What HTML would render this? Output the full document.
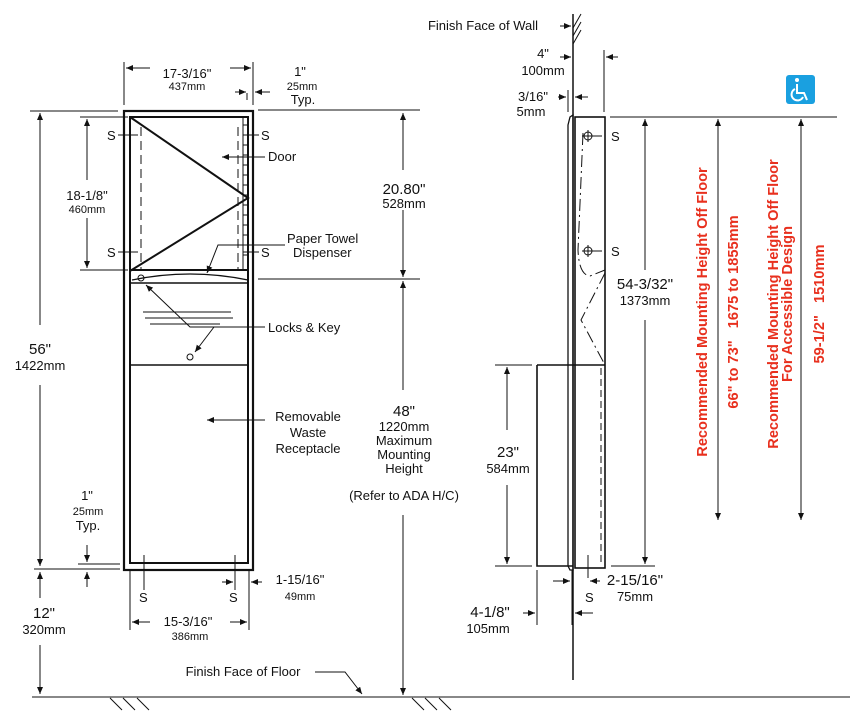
<!DOCTYPE html>
<html><head><meta charset="utf-8"><style>
html,body{margin:0;padding:0;background:#fff}
svg{display:block}
text{font-family:"Liberation Sans",Arial,sans-serif;fill:#111}
.b{font-size:13px}.s{font-size:11px}.l{font-size:15px}
.r{fill:#e8301e;font-size:14.6px;font-weight:bold}
</style></head><body>
<svg width="850" height="721" viewBox="0 0 850 721" xmlns="http://www.w3.org/2000/svg">
<defs>
<marker id="a" markerWidth="8" markerHeight="8" refX="7" refY="3" orient="auto" markerUnits="userSpaceOnUse"><path d="M0,0 L7,3 L0,6 z" fill="#111"/></marker>
</defs>
<g stroke="#111" fill="none" stroke-width="1">
<rect x="124" y="111" width="129" height="459" stroke-width="2.2"/>
<rect x="130" y="117" width="118" height="446" stroke-width="2"/>
<line x1="130" y1="270" x2="248" y2="270" stroke-width="2"/>
<line x1="130" y1="283" x2="248" y2="283" stroke-width="1.5"/>
<line x1="130" y1="365" x2="248" y2="365" stroke-width="1.5"/>
<path d="M130,117 L248,198 L130,271" stroke-width="2"/>
<path d="M132,280 Q190,268 248,280" stroke-width="1.2"/>
<line x1="243" y1="117" x2="243" y2="270"/>
<path d="M243,125h6M243,135h6M243,145h6M243,155h6M243,165h6M243,175h6M243,185h6M243,195h6M243,205h6M243,215h6M243,225h6M243,235h6M243,245h6M243,255h6"/>
<line x1="141" y1="127" x2="141" y2="270" stroke-dasharray="9,5"/>
<line x1="238" y1="127" x2="238" y2="270" stroke-dasharray="9,5"/>
<circle cx="141" cy="278" r="3"/>
<path d="M143,312h88M145,318h88M150,324h70"/>
<circle cx="190" cy="357" r="3"/>
<path d="M118,135h20M243,135h16M118,252h20M243,252h16"/>
<line x1="144" y1="555" x2="144" y2="590"/><line x1="235" y1="555" x2="235" y2="590"/>
<line x1="265" y1="157" x2="222" y2="157" marker-end="url(#a)"/>
<path d="M285,245 L218,245 L207,273" marker-end="url(#a)"/>
<path d="M265,327 L190,327 L146,285" marker-end="url(#a)"/>
<path d="M214,327 L195,352" marker-end="url(#a)"/>
<line x1="265" y1="420" x2="207" y2="420" marker-end="url(#a)"/>
<line x1="124" y1="62" x2="124" y2="105"/><line x1="253" y1="62" x2="253" y2="105"/>
<line x1="150" y1="68" x2="126" y2="68" marker-end="url(#a)"/>
<line x1="230" y1="68" x2="251" y2="68" marker-end="url(#a)"/>
<line x1="247" y1="93" x2="247" y2="100"/>
<line x1="235" y1="92" x2="246" y2="92" marker-end="url(#a)"/>
<line x1="270" y1="92" x2="255" y2="92" marker-end="url(#a)"/>
<line x1="258" y1="110" x2="420" y2="110"/>
<line x1="30" y1="111" x2="118" y2="111"/>
<line x1="40" y1="325" x2="40" y2="113" marker-end="url(#a)"/>
<line x1="40" y1="385" x2="40" y2="566" marker-end="url(#a)"/>
<line x1="34" y1="569" x2="120" y2="569"/>
<line x1="40" y1="598" x2="40" y2="572" marker-end="url(#a)"/>
<line x1="40" y1="645" x2="40" y2="694" marker-end="url(#a)"/>
<line x1="80" y1="117" x2="128" y2="117"/>
<line x1="80" y1="270" x2="128" y2="270"/>
<line x1="87" y1="180" x2="87" y2="119" marker-end="url(#a)"/>
<line x1="87" y1="218" x2="87" y2="268" marker-end="url(#a)"/>
<line x1="78" y1="564" x2="120" y2="564"/>
<line x1="87" y1="545" x2="87" y2="562" marker-end="url(#a)"/>
<line x1="87" y1="587" x2="87" y2="572" marker-end="url(#a)"/>
<line x1="130" y1="570" x2="130" y2="630"/><line x1="249" y1="570" x2="249" y2="630"/>
<line x1="150" y1="622" x2="132" y2="622" marker-end="url(#a)"/>
<line x1="230" y1="622" x2="247" y2="622" marker-end="url(#a)"/>
<line x1="222" y1="582" x2="233" y2="582" marker-end="url(#a)"/>
<line x1="262" y1="582" x2="251" y2="582" marker-end="url(#a)"/>
<line x1="258" y1="279" x2="420" y2="279"/>
<line x1="403" y1="170" x2="403" y2="113" marker-end="url(#a)"/>
<line x1="403" y1="210" x2="403" y2="277" marker-end="url(#a)"/>
<line x1="403" y1="390" x2="403" y2="281" marker-end="url(#a)"/>
<line x1="403" y1="515" x2="403" y2="695" marker-end="url(#a)"/>
<line x1="32" y1="697" x2="850" y2="697"/>
<path d="M110,698l12,12M123,698l12,12M137,698l12,12M412,698l12,12M425,698l12,12M439,698l12,12"/>
<path d="M315,672 L345,672 L362,694" marker-end="url(#a)"/>
<line x1="573" y1="14" x2="573" y2="680" stroke-width="1.5"/>
<path d="M573,28l8,-14M573,36l8,-14M573,44l8,-14"/>
<line x1="560" y1="26" x2="571" y2="26" marker-end="url(#a)"/>
<line x1="604" y1="50" x2="604" y2="112"/>
<line x1="560" y1="57" x2="571" y2="57" marker-end="url(#a)"/>
<line x1="618" y1="57" x2="606" y2="57" marker-end="url(#a)"/>
<line x1="568" y1="90" x2="568" y2="112"/>
<line x1="558" y1="97" x2="566" y2="97" marker-end="url(#a)"/>
<line x1="588" y1="97" x2="575" y2="97" marker-end="url(#a)"/>
<path d="M568,125 L570,117 L573,115 L573,570 L570,570 L568,566 Z" stroke-width="1.3"/>
<rect x="575" y="117" width="30" height="451" stroke-width="1.6"/>
<line x1="610" y1="117" x2="837" y2="117"/>
<path d="M583,133 L578,250 Q579,275 590,276 L605,270" stroke-dasharray="12,4,2,4"/>
<path d="M605,273 L581,320 L605,365" stroke-dasharray="12,4,2,4"/>
<circle cx="588" cy="136" r="4"/><path d="M588,130v12M582,136h20"/>
<circle cx="588" cy="251" r="4"/><path d="M588,245v12M582,251h20"/>
<path d="M537,365 L605,365 M537,365 L537,566 L573,566" stroke-width="1.6"/>
<line x1="601" y1="368" x2="601" y2="566" stroke-dasharray="7,4"/>
<line x1="495" y1="365" x2="532" y2="365"/>
<line x1="495" y1="566" x2="532" y2="566"/>
<line x1="507" y1="430" x2="507" y2="367" marker-end="url(#a)"/>
<line x1="507" y1="485" x2="507" y2="564" marker-end="url(#a)"/>
<line x1="537" y1="570" x2="537" y2="625"/>
<line x1="572" y1="570" x2="572" y2="625"/>
<line x1="588" y1="555" x2="588" y2="578"/>
<line x1="553" y1="581" x2="570" y2="581" marker-end="url(#a)"/>
<line x1="600" y1="581" x2="590" y2="581" marker-end="url(#a)"/>
<line x1="523" y1="613" x2="535" y2="613" marker-end="url(#a)"/>
<line x1="593" y1="613" x2="575" y2="613" marker-end="url(#a)"/>
<line x1="611" y1="566" x2="655" y2="566"/>
<line x1="645" y1="270" x2="645" y2="119" marker-end="url(#a)"/>
<line x1="645" y1="320" x2="645" y2="564" marker-end="url(#a)"/>
<line x1="718" y1="300" x2="718" y2="119" marker-end="url(#a)"/>
<line x1="718" y1="300" x2="718" y2="520" marker-end="url(#a)"/>
<line x1="801" y1="300" x2="801" y2="119" marker-end="url(#a)"/>
<line x1="801" y1="300" x2="801" y2="520" marker-end="url(#a)"/>
</g>
<rect x="786" y="75" width="29" height="29" rx="3" fill="#1aa0e0"/>
<g stroke="#fff" fill="none" stroke-width="2"><path d="M797,84v9h7l3,7"/><path d="M795,89a6,6 0 1 0 8,8"/></g>
<circle cx="797" cy="80" r="2" fill="#fff"/>
<text x="187" y="78" class="b" text-anchor="middle">17-3/16"</text>
<text x="187" y="90" class="s" text-anchor="middle">437mm</text>
<text x="300" y="76" class="b" text-anchor="middle">1"</text>
<text x="302" y="90" class="s" text-anchor="middle">25mm</text>
<text x="303" y="104" class="b" text-anchor="middle">Typ.</text>
<text x="107" y="140" class="b">S</text><text x="261" y="140" class="b">S</text>
<text x="107" y="257" class="b">S</text><text x="261" y="257" class="b">S</text>
<text x="268" y="161" class="b">Door</text>
<text x="287" y="243" class="b">Paper Towel</text>
<text x="293" y="257" class="b">Dispenser</text>
<text x="268" y="332" class="b">Locks &amp; Key</text>
<text x="308" y="421" class="b" text-anchor="middle">Removable</text>
<text x="308" y="437" class="b" text-anchor="middle">Waste</text>
<text x="308" y="453" class="b" text-anchor="middle">Receptacle</text>
<text x="87" y="200" class="b" text-anchor="middle">18-1/8"</text>
<text x="87" y="213" class="s" text-anchor="middle">460mm</text>
<text x="40" y="354" class="l" text-anchor="middle">56"</text>
<text x="40" y="370" class="b" text-anchor="middle">1422mm</text>
<text x="87" y="500" class="b" text-anchor="middle">1"</text>
<text x="88" y="515" class="s" text-anchor="middle">25mm</text>
<text x="88" y="530" class="b" text-anchor="middle">Typ.</text>
<text x="44" y="618" class="l" text-anchor="middle">12"</text>
<text x="44" y="634" class="b" text-anchor="middle">320mm</text>
<text x="139" y="602" class="b">S</text><text x="229" y="602" class="b">S</text>
<text x="188" y="626" class="b" text-anchor="middle">15-3/16"</text>
<text x="190" y="640" class="s" text-anchor="middle">386mm</text>
<text x="300" y="584" class="b" text-anchor="middle">1-15/16"</text>
<text x="300" y="600" class="s" text-anchor="middle">49mm</text>
<text x="243" y="676" class="b" text-anchor="middle">Finish Face of Floor</text>
<text x="404" y="194" class="l" text-anchor="middle">20.80"</text>
<text x="404" y="208" class="b" text-anchor="middle">528mm</text>
<text x="404" y="416" class="l" text-anchor="middle">48"</text>
<text x="404" y="431" class="b" text-anchor="middle">1220mm</text>
<text x="404" y="445" class="b" text-anchor="middle">Maximum</text>
<text x="404" y="459" class="b" text-anchor="middle">Mounting</text>
<text x="404" y="473" class="b" text-anchor="middle">Height</text>
<text x="404" y="500" class="b" text-anchor="middle">(Refer to ADA H/C)</text>
<text x="483" y="30" class="b" text-anchor="middle">Finish Face of Wall</text>
<text x="543" y="58" class="b" text-anchor="middle">4"</text>
<text x="543" y="75" class="b" text-anchor="middle">100mm</text>
<text x="533" y="101" class="b" text-anchor="middle">3/16"</text>
<text x="531" y="116" class="b" text-anchor="middle">5mm</text>
<text x="611" y="141" class="b">S</text><text x="611" y="256" class="b">S</text>
<text x="645" y="289" class="l" text-anchor="middle">54-3/32"</text>
<text x="645" y="305" class="b" text-anchor="middle">1373mm</text>
<text x="508" y="457" class="l" text-anchor="middle">23"</text>
<text x="508" y="473" class="b" text-anchor="middle">584mm</text>
<text x="585" y="602" class="b">S</text>
<text x="635" y="585" class="l" text-anchor="middle">2-15/16"</text>
<text x="635" y="601" class="b" text-anchor="middle">75mm</text>
<text x="490" y="617" class="l" text-anchor="middle">4-1/8"</text>
<text x="488" y="633" class="b" text-anchor="middle">105mm</text>
<text class="r" transform="translate(707,312) rotate(-90)" text-anchor="middle">Recommended Mounting Height Off Floor</text>
<text class="r" transform="translate(738,312) rotate(-90)" text-anchor="middle" xml:space="preserve">66" to 73"   1675 to 1855mm</text>
<text class="r" transform="translate(778,304) rotate(-90)" text-anchor="middle">Recommended Mounting Height Off Floor</text>
<text class="r" transform="translate(792,304) rotate(-90)" text-anchor="middle">For Accessible Design</text>
<text class="r" transform="translate(824,304) rotate(-90)" text-anchor="middle" xml:space="preserve">59-1/2"   1510mm</text>
</svg>
</body></html>
